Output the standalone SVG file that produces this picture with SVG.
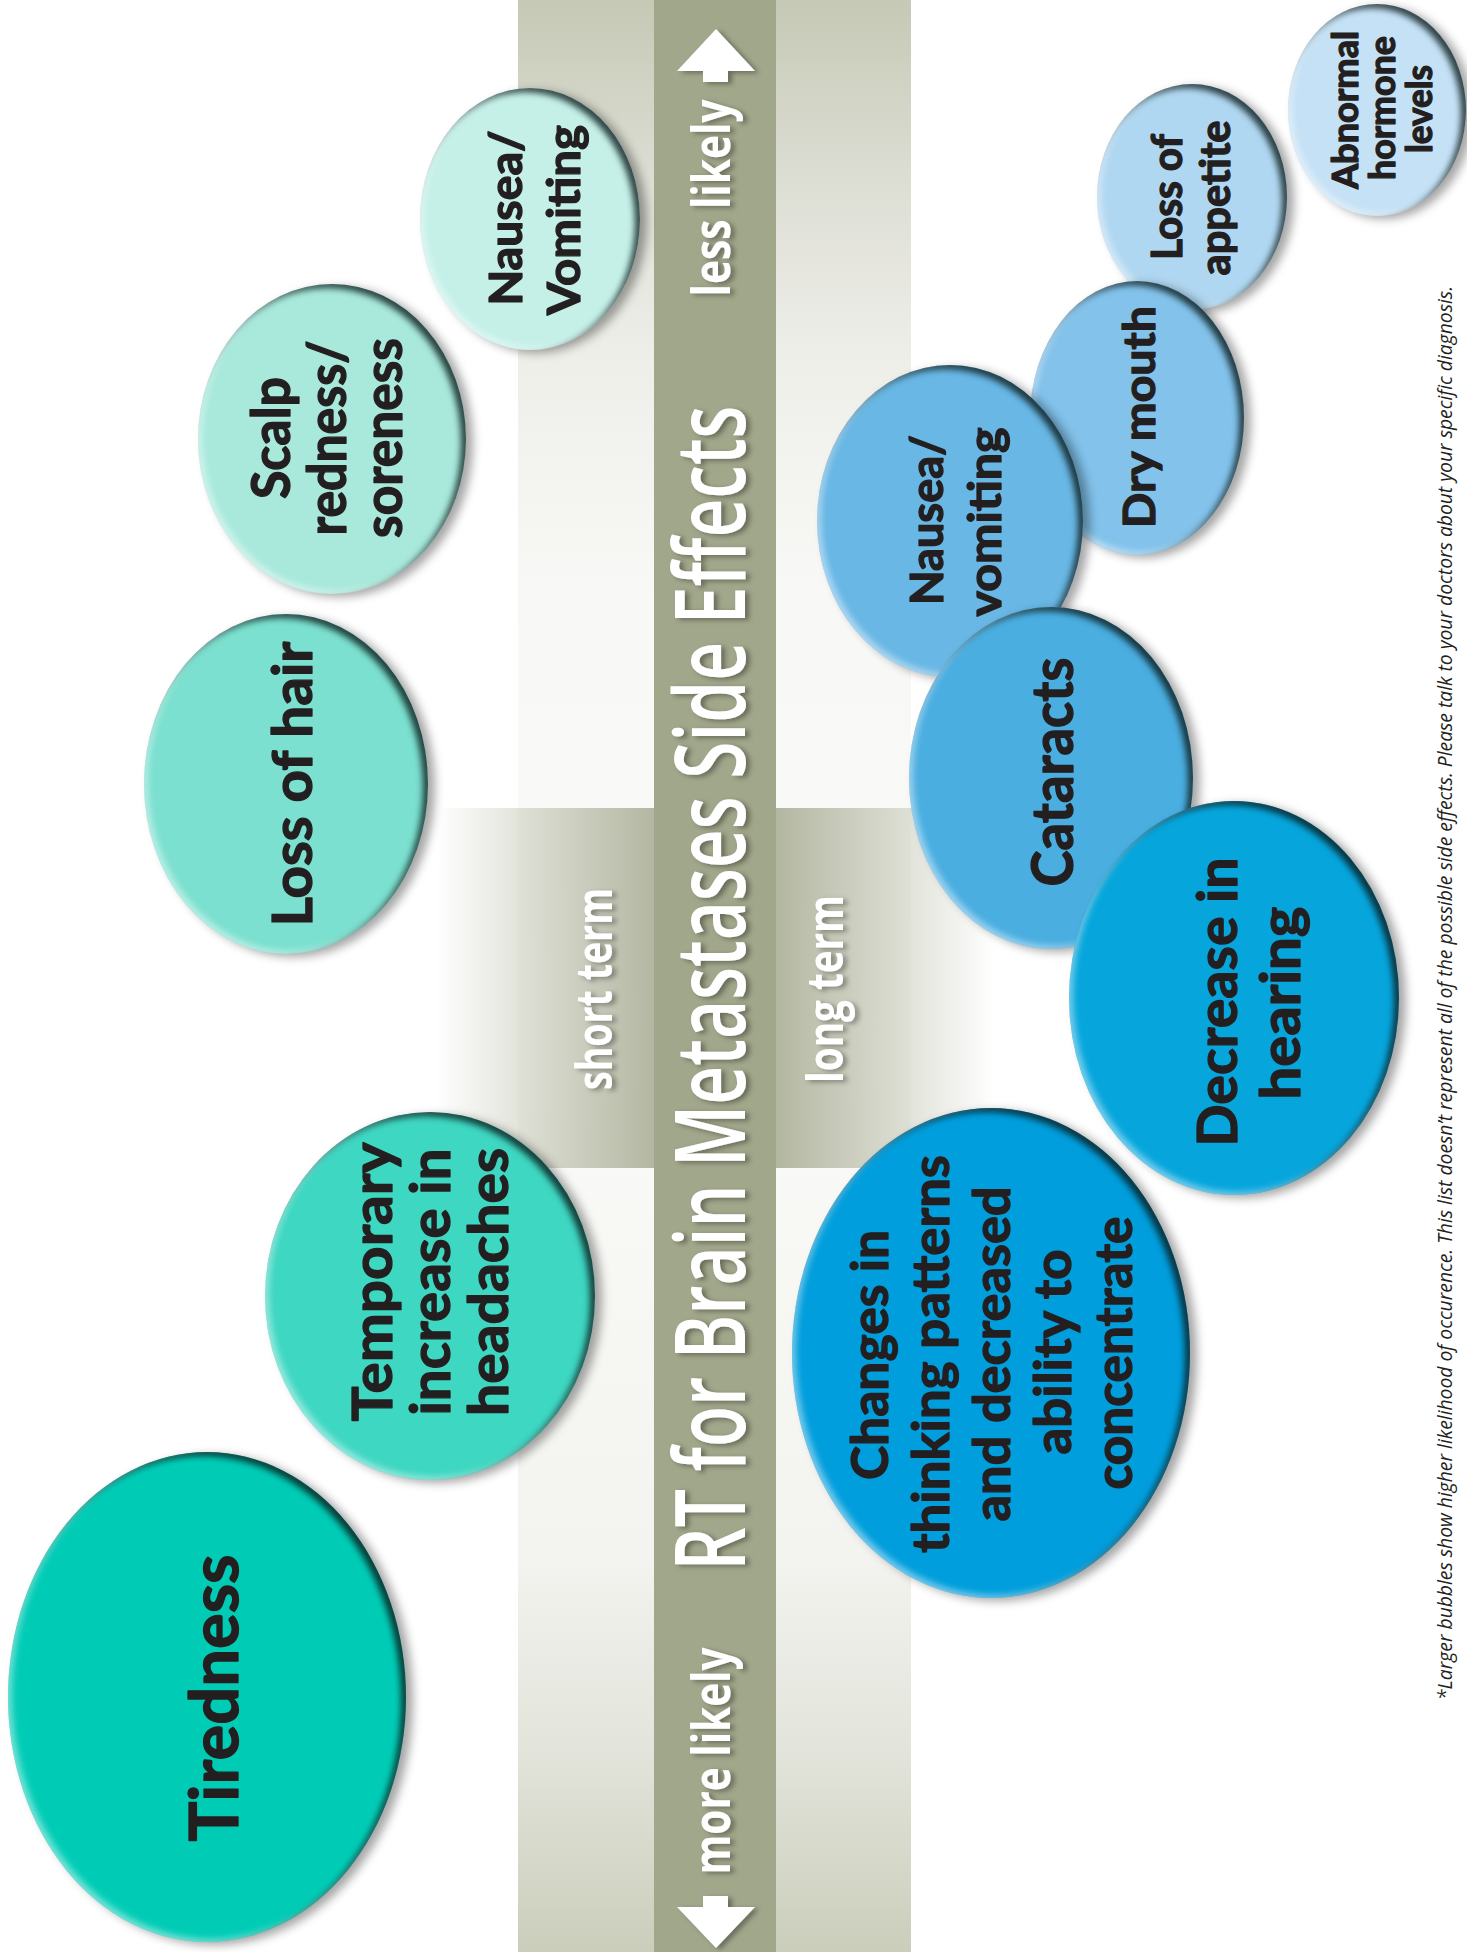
<svg xmlns="http://www.w3.org/2000/svg" width="1467" height="1952" viewBox="0 0 1467 1952">
<defs>
<style>
.lbl{font-family:Lato,"Open Sans","Liberation Sans",sans-serif;font-weight:700;fill:#231f20;stroke:#231f20;stroke-width:1.3;stroke-linejoin:round;text-anchor:middle}
.bar{font-family:"Liberation Sans Narrow","Open Sans","Liberation Sans",sans-serif;font-weight:700;fill:#ffffff;text-anchor:middle}
.title{font-weight:600}
.note{font-family:"Open Sans","Liberation Sans",sans-serif;font-style:italic;fill:#231f20;text-anchor:middle}
.bub{filter:url(#bub)}
</style>
<linearGradient id="band" x1="0" y1="0" x2="0" y2="1">
<stop offset="0" stop-color="#c6c9b5"/>
<stop offset="0.08" stop-color="#dadbd0"/>
<stop offset="0.18" stop-color="#eeeee9"/>
<stop offset="0.3" stop-color="#f8f8f6"/>
<stop offset="0.55" stop-color="#fafaf8"/>
<stop offset="0.8" stop-color="#f3f3ef"/>
<stop offset="0.9" stop-color="#e2e3da"/>
<stop offset="1" stop-color="#cbcebb"/>
</linearGradient>
<linearGradient id="crossL" x1="0" y1="0" x2="1" y2="0">
<stop offset="0" stop-color="#b3b7a1" stop-opacity="0"/>
<stop offset="1" stop-color="#b3b7a1" stop-opacity="1"/>
</linearGradient>
<linearGradient id="crossR" x1="0" y1="0" x2="1" y2="0">
<stop offset="0" stop-color="#b3b7a1" stop-opacity="1"/>
<stop offset="1" stop-color="#b3b7a1" stop-opacity="0"/>
</linearGradient>
<filter id="bub" x="-10%" y="-10%" width="125%" height="120%" color-interpolation-filters="sRGB">
<feGaussianBlur in="SourceAlpha" stdDeviation="3" result="blur"/>
<feOffset in="blur" dx="-5" dy="4" result="off"/>
<feComposite in="SourceAlpha" in2="off" operator="out" result="rimA"/>
<feFlood flood-color="#0a1a1a" flood-opacity="0.8"/>
<feComposite in2="rimA" operator="in" result="rim"/>
<feOffset in="blur" dx="4" dy="-3" result="off2"/>
<feComposite in="SourceAlpha" in2="off2" operator="out" result="rimB"/>
<feFlood flood-color="#ffffff" flood-opacity="0.45"/>
<feComposite in2="rimB" operator="in" result="hl"/>
<feGaussianBlur in="SourceAlpha" stdDeviation="5" result="blur2"/>
<feOffset in="blur2" dx="7" dy="3" result="sh0"/>
<feFlood flood-color="#000000" flood-opacity="0.35"/>
<feComposite in2="sh0" operator="in" result="sh"/>
<feMerge><feMergeNode in="sh"/><feMergeNode in="SourceGraphic"/><feMergeNode in="rim"/><feMergeNode in="hl"/></feMerge>
</filter>
<filter id="ts" x="-5%" y="-5%" width="115%" height="110%">
<feDropShadow dx="4" dy="2" stdDeviation="2.5" flood-color="#000" flood-opacity="0.35"/>
</filter>
</defs>

<rect x="0" y="0" width="1467" height="1952" fill="#ffffff"/>

<g id="background">
<rect x="518" y="0" width="393" height="1952" fill="url(#band)"/>
<rect x="436" y="808" width="219" height="360" fill="url(#crossL)"/>
<rect x="776" y="808" width="219" height="360" fill="url(#crossR)"/>
<rect x="654" y="0" width="122" height="1952" fill="#a1a78b"/>
</g>

<g id="axis" filter="url(#ts)">
<polygon points="716,29 755,71 728,71 728,82 703,82 703,71 677,71" fill="#ffffff"/>
<polygon points="716,1948 755,1907 728,1907 728,1896 703,1896 703,1907 677,1907" fill="#ffffff"/>
<text class="bar title" font-size="98" transform="translate(745 988) rotate(-90)" textLength="1165" lengthAdjust="spacingAndGlyphs">RT for Brain Metastases Side Effects</text>
<text class="bar" font-size="52" transform="translate(730 198) rotate(-90)" textLength="197" lengthAdjust="spacingAndGlyphs">less likely</text>
<text class="bar" font-size="52" transform="translate(730 1761) rotate(-90)" textLength="227" lengthAdjust="spacingAndGlyphs">more likely</text>
<text class="bar" font-size="50" transform="translate(612 989) rotate(-90)" textLength="202" lengthAdjust="spacingAndGlyphs">short term</text>
<text class="bar" font-size="50" transform="translate(843 989) rotate(-90)" textLength="188" lengthAdjust="spacingAndGlyphs">long term</text>
</g>

<g id="node-tiredness">
<ellipse class="bub" cx="207" cy="1697" rx="199" ry="245" fill="#00ccb6"/>
<text class="lbl" font-size="67" transform="translate(238 1698) rotate(-90)" textLength="287" lengthAdjust="spacingAndGlyphs">Tiredness</text>
</g>

<g id="node-headaches">
<ellipse class="bub" cx="430" cy="1296" rx="165" ry="184" fill="#3ed7c2"/>
<text class="lbl" font-size="56" transform="translate(392 1282) rotate(-90)" textLength="279" lengthAdjust="spacingAndGlyphs">Temporary</text>
<text class="lbl" font-size="56" transform="translate(450 1282) rotate(-90)" textLength="267" lengthAdjust="spacingAndGlyphs">increase in</text>
<text class="lbl" font-size="56" transform="translate(508 1282) rotate(-90)" textLength="268" lengthAdjust="spacingAndGlyphs">headaches</text>
</g>

<g id="node-hair">
<ellipse class="bub" cx="286" cy="784" rx="142" ry="170" fill="#7be0cf"/>
<text class="lbl" font-size="56" transform="translate(312 784) rotate(-90)" textLength="285" lengthAdjust="spacingAndGlyphs">Loss of hair</text>
</g>

<g id="node-scalp">
<ellipse class="bub" cx="332" cy="439" rx="134" ry="155" fill="#a8e9dc"/>
<text class="lbl" font-size="53" transform="translate(290 438) rotate(-90)" textLength="122" lengthAdjust="spacingAndGlyphs">Scalp</text>
<text class="lbl" font-size="53" transform="translate(346 438) rotate(-90)" textLength="195" lengthAdjust="spacingAndGlyphs">redness/</text>
<text class="lbl" font-size="53" transform="translate(402 438) rotate(-90)" textLength="200" lengthAdjust="spacingAndGlyphs">soreness</text>
</g>

<g id="node-nausea-short">
<ellipse class="bub" cx="530" cy="219" rx="110" ry="131" fill="#c4f0e8"/>
<text class="lbl" font-size="46" transform="translate(522 218) rotate(-90)" textLength="175" lengthAdjust="spacingAndGlyphs">Nausea/</text>
<text class="lbl" font-size="46" transform="translate(580 220) rotate(-90)" textLength="190" lengthAdjust="spacingAndGlyphs">Vomiting</text>
</g>

<g id="node-abnormal">
<ellipse class="bub" cx="1377" cy="110" rx="89" ry="106" fill="#c5e1f5"/>
<text class="lbl" font-size="36" transform="translate(1358 110) rotate(-90)" textLength="158" lengthAdjust="spacingAndGlyphs">Abnormal</text>
<text class="lbl" font-size="36" transform="translate(1395 108) rotate(-90)" textLength="144" lengthAdjust="spacingAndGlyphs">hormone</text>
<text class="lbl" font-size="36" transform="translate(1432 109) rotate(-90)" textLength="88" lengthAdjust="spacingAndGlyphs">levels</text>
</g>

<g id="node-appetite">
<ellipse class="bub" cx="1192" cy="197" rx="95" ry="113" fill="#b0d7f1"/>
<text class="lbl" font-size="42" transform="translate(1182 197) rotate(-90)" textLength="126" lengthAdjust="spacingAndGlyphs">Loss of</text>
<text class="lbl" font-size="42" transform="translate(1230 198) rotate(-90)" textLength="155" lengthAdjust="spacingAndGlyphs">appetite</text>
</g>

<g id="node-drymouth">
<ellipse class="bub" cx="1137" cy="418" rx="107" ry="137" fill="#82c2eb"/>
<text class="lbl" font-size="44" transform="translate(1155 417) rotate(-90)" textLength="222" lengthAdjust="spacingAndGlyphs">Dry mouth</text>
</g>

<g id="node-nausea-long">
<ellipse class="bub" cx="950" cy="521" rx="133" ry="156" fill="#68b7e5"/>
<text class="lbl" font-size="45" transform="translate(943 520) rotate(-90)" textLength="170" lengthAdjust="spacingAndGlyphs">Nausea/</text>
<text class="lbl" font-size="45" transform="translate(1001 522) rotate(-90)" textLength="189" lengthAdjust="spacingAndGlyphs">vomiting</text>
</g>

<g id="node-cataracts">
<ellipse class="bub" cx="1051" cy="778" rx="142" ry="171" fill="#4aaee1"/>
<text class="lbl" font-size="57" transform="translate(1073 772) rotate(-90)" textLength="229" lengthAdjust="spacingAndGlyphs">Cataracts</text>
</g>

<g id="node-hearing">
<ellipse class="bub" cx="1234" cy="998" rx="165" ry="197" fill="#06a6dd"/>
<text class="lbl" font-size="56" transform="translate(1237 1002) rotate(-90)" textLength="289" lengthAdjust="spacingAndGlyphs">Decrease in</text>
<text class="lbl" font-size="56" transform="translate(1300 1003) rotate(-90)" textLength="193" lengthAdjust="spacingAndGlyphs">hearing</text>
</g>

<g id="node-thinking">
<ellipse class="bub" cx="991" cy="1353" rx="199" ry="245" fill="#009edd"/>
<text class="lbl" font-size="52" transform="translate(888 1355) rotate(-90)" textLength="250" lengthAdjust="spacingAndGlyphs">Changes in</text>
<text class="lbl" font-size="52" transform="translate(949 1354) rotate(-90)" textLength="398" lengthAdjust="spacingAndGlyphs">thinking patterns</text>
<text class="lbl" font-size="52" transform="translate(1010 1354) rotate(-90)" textLength="335" lengthAdjust="spacingAndGlyphs">and decreased</text>
<text class="lbl" font-size="52" transform="translate(1071 1352) rotate(-90)" textLength="205" lengthAdjust="spacingAndGlyphs">ability to</text>
<text class="lbl" font-size="52" transform="translate(1132 1353) rotate(-90)" textLength="273" lengthAdjust="spacingAndGlyphs">concentrate</text>
</g>

<g id="connectors"></g>

<g id="footnote">
<text class="note" font-size="20" transform="translate(1452 993) rotate(-90)" textLength="1414" lengthAdjust="spacingAndGlyphs">*Larger bubbles show higher likelihood of occurence. This list doesn’t represent all of the possible side effects. Please talk to your doctors about your specific diagnosis.</text>
</g>
</svg>
